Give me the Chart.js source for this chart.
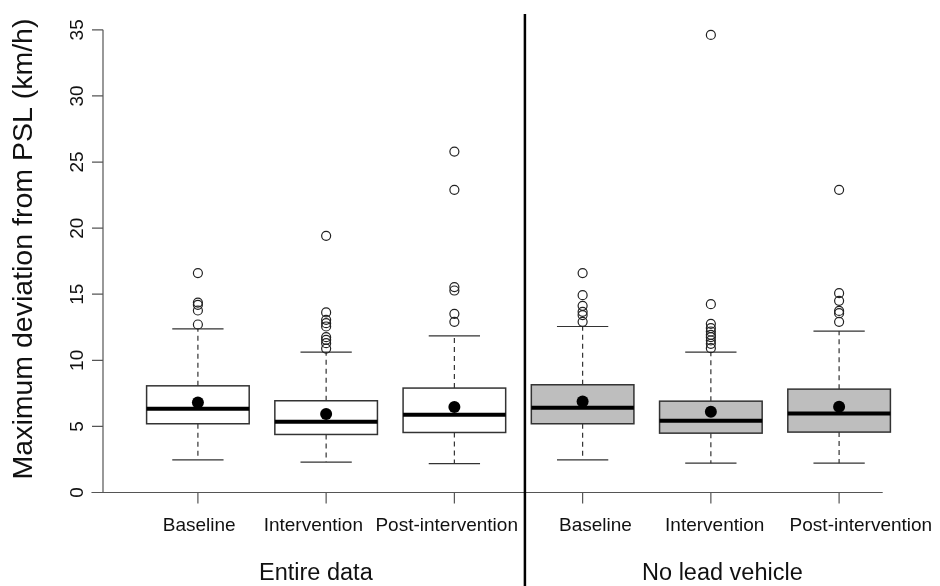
<!DOCTYPE html>
<html>
<head>
<meta charset="utf-8">
<script src="https://cdn.jsdelivr.net/npm/chart.js@4"></script>
<style>
  html, body { margin: 0; padding: 0; background: #fff; }
  canvas { display: block; }
</style>
</head>
<body>
<canvas id="speedChart" width="940" height="586"></canvas>
<script>
// Maximum deviation from posted speed limit, per condition
const groups = ['Entire data', 'No lead vehicle'];
const conditions = ['Baseline', 'Intervention', 'Post-intervention', 'Baseline', 'Intervention', 'Post-intervention'];

const lowerWhisker = [2.47, 2.30, 2.19, 2.47, 2.22, 2.22];
const lowerQuartile = [5.20, 4.39, 4.54, 5.20, 4.49, 4.57];
const medians = [6.33, 5.35, 5.88, 6.41, 5.42, 5.98];
const upperQuartile = [8.07, 6.94, 7.90, 8.15, 6.91, 7.82];
const upperWhisker = [12.38, 10.62, 11.85, 12.56, 10.62, 12.21];
const means = [6.81, 5.93, 6.46, 6.88, 6.10, 6.48];
const outliers = [
    [16.60, 14.37, 14.20, 13.77, 12.71],
    [19.42, 13.62, 13.06, 12.81, 12.56, 11.75, 11.55, 11.30, 10.89],
    [25.79, 22.90, 15.54, 15.28, 13.52, 12.91],
    [16.60, 14.93, 14.12, 13.67, 13.42, 12.91],
    [34.62, 14.25, 12.76, 12.44, 12.18, 11.93, 11.75, 11.50, 11.25, 10.92],
    [22.90, 15.08, 14.50, 13.74, 13.57, 12.91]
];
const yTicks = [0, 5, 10, 15, 20, 25, 30, 35];

// layout (x in category units, 1..6)
const labelX = [1.01, 1.9, 2.94, 4.1, 5.03, 6.17];
const groupLabelX = [1.92, 5.09];
const dividerX = 3.55;
const axisFrom = 0.17, axisTo = 6.34;
const boxWidth = 0.8, capWidth = 0.4;
const FONT = '"Liberation Sans", Arial, Helvetica, sans-serif';

const boxPlot = {
    id: 'boxPlot',
    beforeDatasetsDraw(chart) {
        const {ctx, scales: {x, y}} = chart;
        ctx.save();
        conditions.forEach((c, i) => {
            const cx = x.getPixelForValue(i + 1);
            const half = (x.getPixelForValue(i + 1 + boxWidth / 2) - cx);
            const capHalf = (x.getPixelForValue(i + 1 + capWidth / 2) - cx);
            const yq1 = y.getPixelForValue(lowerQuartile[i]);
            const yq3 = y.getPixelForValue(upperQuartile[i]);
            const ylo = y.getPixelForValue(lowerWhisker[i]);
            const yhi = y.getPixelForValue(upperWhisker[i]);
            const ymed = y.getPixelForValue(medians[i]);

            // whiskers
            ctx.strokeStyle = '#333';
            ctx.lineWidth = 1.2;
            ctx.setLineDash([5, 4]);
            ctx.beginPath();
            ctx.moveTo(cx, yq3); ctx.lineTo(cx, yhi);
            ctx.moveTo(cx, yq1); ctx.lineTo(cx, ylo);
            ctx.stroke();
            ctx.setLineDash([]);
            ctx.beginPath();
            ctx.moveTo(cx - capHalf, yhi); ctx.lineTo(cx + capHalf, yhi);
            ctx.moveTo(cx - capHalf, ylo); ctx.lineTo(cx + capHalf, ylo);
            ctx.stroke();

            // box
            ctx.fillStyle = i < 3 ? '#ffffff' : '#bebebe';
            ctx.fillRect(cx - half, yq3, half * 2, yq1 - yq3);
            ctx.lineWidth = 1.5;
            ctx.strokeStyle = '#333';
            ctx.strokeRect(cx - half, yq3, half * 2, yq1 - yq3);

            // median
            ctx.strokeStyle = '#000';
            ctx.lineWidth = 4;
            ctx.beginPath();
            ctx.moveTo(cx - half, ymed); ctx.lineTo(cx + half, ymed);
            ctx.stroke();
        });
        ctx.restore();
    },
    afterDraw(chart) {
        const {ctx, scales: {x, y}} = chart;
        const y0 = y.getPixelForValue(0);
        const xl = x.getPixelForValue(0.26);
        ctx.save();
        ctx.strokeStyle = '#555';
        ctx.lineWidth = 1.2;
        ctx.beginPath();
        // y axis
        ctx.moveTo(xl, y.getPixelForValue(yTicks[0]));
        ctx.lineTo(xl, y.getPixelForValue(yTicks[yTicks.length - 1]));
        yTicks.forEach(t => {
            const py = y.getPixelForValue(t);
            ctx.moveTo(xl, py); ctx.lineTo(xl - 11, py);
        });
        // x axis
        ctx.moveTo(x.getPixelForValue(axisFrom), y0);
        ctx.lineTo(x.getPixelForValue(axisTo), y0);
        conditions.forEach((c, i) => {
            const px = x.getPixelForValue(i + 1);
            ctx.moveTo(px, y0); ctx.lineTo(px, y0 + 11);
        });
        ctx.stroke();

        // group divider
        ctx.strokeStyle = '#000';
        ctx.lineWidth = 2.5;
        ctx.beginPath();
        ctx.moveTo(x.getPixelForValue(dividerX), chart.chartArea.top);
        ctx.lineTo(x.getPixelForValue(dividerX), chart.height);
        ctx.stroke();

        ctx.fillStyle = '#111';
        ctx.textAlign = 'center';
        ctx.textBaseline = 'alphabetic';

        // y tick labels, rotated
        ctx.font = '19px ' + FONT;
        yTicks.forEach(t => {
            ctx.save();
            ctx.translate(xl - 20, y.getPixelForValue(t));
            ctx.rotate(-Math.PI / 2);
            ctx.fillText(String(t), 0, 0);
            ctx.restore();
        });

        // condition labels
        conditions.forEach((c, i) => {
            ctx.fillText(c, x.getPixelForValue(labelX[i]), 531);
        });

        // group labels
        ctx.font = '23.5px ' + FONT;
        groups.forEach((g, i) => {
            ctx.fillText(g, x.getPixelForValue(groupLabelX[i]), 580);
        });

        // y title
        ctx.font = '28.5px ' + FONT;
        ctx.save();
        ctx.translate(32, 249);
        ctx.rotate(-Math.PI / 2);
        ctx.fillText('Maximum deviation from PSL (km/h)', 0, 0);
        ctx.restore();
        ctx.restore();
    }
};

new Chart(document.getElementById('speedChart'), {
    type: 'scatter',
    data: {
        datasets: [{
            label: 'Outliers',
            data: outliers.flatMap((list, i) => list.map(v => ({x: i + 1, y: v}))),
            pointRadius: 4.5,
            pointBorderWidth: 1.2,
            borderColor: '#222',
            backgroundColor: 'rgba(0,0,0,0)',
            order: 2
        }, {
            label: 'Mean',
            data: means.map((v, i) => ({x: i + 1, y: v})),
            pointRadius: 6,
            pointBorderWidth: 0,
            borderColor: '#000',
            backgroundColor: '#000',
            order: 1
        }]
    },
    options: {
        responsive: false,
        animation: false,
        layout: {
            padding: {left: 103, right: 1, top: 14, bottom: 75}
        },
        scales: {
            x: {type: 'linear', min: 0.26, max: 6.74, display: false},
            y: {min: -1.4, max: 36.2, display: false}
        },
        plugins: {
            legend: {display: false},
            tooltip: {enabled: false}
        }
    },
    plugins: [boxPlot]
});
</script>
</body>
</html>
